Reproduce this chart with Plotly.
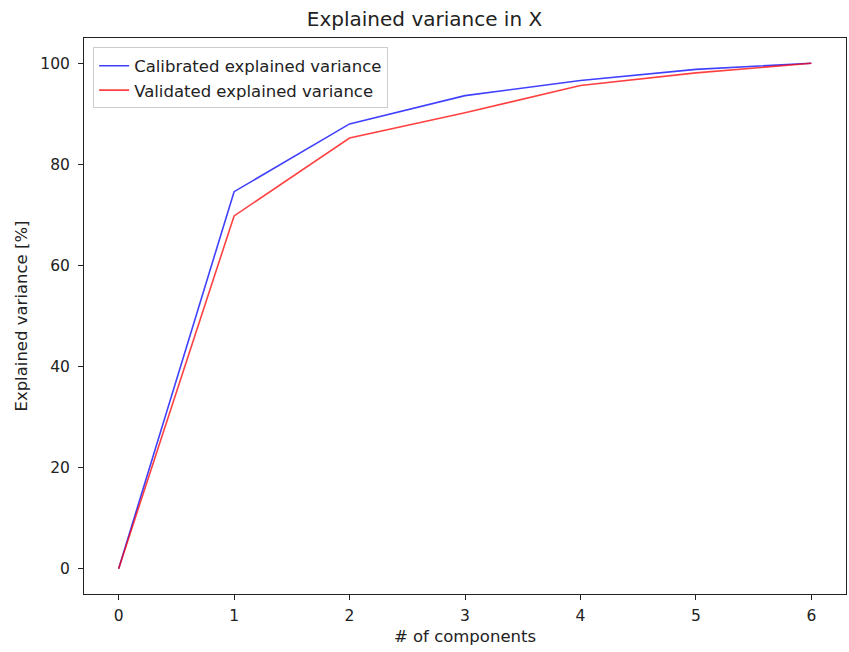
import plotly.graph_objects as go

components = [0, 1, 2, 3, 4, 5, 6]
calibrated = [0.0, 74.6, 88.0, 93.6, 96.6, 98.8, 100.0]
validated = [0.0, 69.8, 85.2, 90.2, 95.6, 98.1, 100.0]

FONT = "DejaVu Sans"
TXT = "#222"

fig = go.Figure()
fig.add_trace(go.Scatter(
    x=components, y=calibrated, mode="lines",
    name="Calibrated explained variance",
    line=dict(color="rgba(0,0,255,0.75)", width=1.6),
))
fig.add_trace(go.Scatter(
    x=components, y=validated, mode="lines",
    name="Validated explained variance",
    line=dict(color="rgba(255,0,0,0.75)", width=1.6),
))

axis_common = dict(
    showgrid=False, zeroline=False,
    showline=True, linecolor="#222", linewidth=1, mirror=True,
    ticks="outside", ticklen=5, tickwidth=1, tickcolor="#222",
    tickfont=dict(family=FONT, size=15.5, color=TXT),
)

fig.update_layout(
    width=849, height=652,
    margin=dict(l=84, r=3, t=38, b=58),
    paper_bgcolor="white", plot_bgcolor="white",
    title=dict(text="Explained variance in X", x=0.5, xanchor="center",
               y=1 - 19 / 652, yanchor="middle",
               font=dict(family=FONT, size=20, color=TXT)),
    xaxis=dict(range=[-0.3, 6.3], tickvals=components, ticklabelstandoff=2,
               title=dict(text="# of components", standoff=6,
                          font=dict(family=FONT, size=16.5, color=TXT)),
               **axis_common),
    yaxis=dict(range=[-5, 105], tickvals=[0, 20, 40, 60, 80, 100], ticklabelstandoff=5,
               title=dict(text="Explained variance [%]", standoff=8,
                          font=dict(family=FONT, size=16.5, color=TXT)),
               **axis_common),
    legend=dict(x=0.012, y=0.983, xanchor="left", yanchor="top",
                bgcolor="rgba(255,255,255,0.8)", bordercolor="#ccc", borderwidth=1,
                font=dict(family=FONT, size=16.5, color=TXT),
                tracegroupgap=0, itemwidth=30),
    showlegend=True,
)

fig.write_html("out.html")
